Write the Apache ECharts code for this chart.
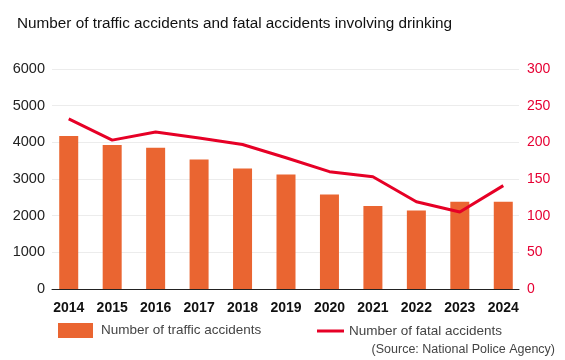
<!DOCTYPE html>
<html><head><meta charset="utf-8">
<script src="https://cdn.jsdelivr.net/npm/echarts@6/dist/echarts.min.js"></script>
<style>html,body{margin:0;padding:0;background:#fff}#c{width:565px;height:360px}</style>
</head><body><div id="c"></div>
<script>
var years = ['2014','2015','2016','2017','2018','2019','2020','2021','2022','2023','2024'];
var trafficAccidents = [4170, 3924, 3850, 3534, 3289, 3125, 2580, 2262, 2144, 2379, 2379];
var fatalAccidents = [232, 203, 214, 206, 197, 179, 160, 153, 119, 105, 141];
var leftTicks = [0, 1000, 2000, 3000, 4000, 5000, 6000];
var rightTicks = [0, 50, 100, 150, 200, 250, 300];
var FONT = '"Liberation Sans", Arial, sans-serif';
var chart = echarts.init(document.getElementById('c'), null, {renderer: 'canvas'});
chart.setOption({
  animation: false,
  textStyle: {fontFamily: FONT},
  title: {text: 'Number of traffic accidents and fatal accidents involving drinking', left: 12, top: 11,
    textStyle: {fontSize: 15.3, fontWeight: 'normal', color: '#111', fontFamily: FONT}},
  grid: [
    {left: 47, right: 40, top: 69, bottom: 71},
    {left: 52, right: 46, top: 69, bottom: 71}
  ],
  legend: [
    {data: ['Number of traffic accidents'], left: 53, top: 318, itemWidth: 35, itemHeight: 15, itemGap: 0,
      icon: 'rect', textStyle: {fontSize: 13.5, color: '#444', fontFamily: FONT, padding: [0,0,0,3]}},
    {data: ['Number of fatal accidents'], left: 312, top: 319, itemWidth: 27, itemHeight: 3,
      icon: 'rect', textStyle: {fontSize: 13.5, color: '#444', fontFamily: FONT, padding: [0,0,0,0]}}
  ],
  xAxis: [
    {type: 'category', data: years, gridIndex: 0, axisLine: {show: false}, axisTick: {show: false},
      axisLabel: {margin: 12, fontSize: 14, color: '#111', fontFamily: FONT, fontWeight: 'bold', interval: 0}},
    {type: 'value', gridIndex: 1, min: 0, max: 1, axisLine: {show: true, lineStyle: {color: '#222', width: 1}},
      axisTick: {show: false}, axisLabel: {show: false}, splitLine: {show: false}}
  ],
  yAxis: [
    {type: 'value', gridIndex: 0, min: 0, max: 6000, interval: 1000, position: 'left',
      axisLine: {show: false}, axisTick: {show: false}, splitLine: {show: false},
      axisLabel: {margin: 2, fontSize: 14.5, color: '#222', fontFamily: FONT, formatter: function (v) { return String(v); }}},
    {type: 'value', gridIndex: 0, min: 0, max: 300, interval: 50, position: 'right',
      axisLine: {show: false}, axisTick: {show: false}, splitLine: {show: false},
      axisLabel: {margin: 2, fontSize: 14, color: '#E60033', fontFamily: FONT, formatter: function (v) { return String(v); }}},
    {type: 'value', gridIndex: 1, min: 0, max: 6000, interval: 1000,
      axisLine: {show: false}, axisTick: {show: false}, axisLabel: {show: false},
      splitLine: {show: true, lineStyle: {color: '#ececec', width: 1}}}
  ],
  series: [
    {name: 'Number of traffic accidents', type: 'bar', xAxisIndex: 0, yAxisIndex: 0, data: trafficAccidents,
      barWidth: 19, itemStyle: {color: '#EA6531'}},
    {name: 'Number of fatal accidents', type: 'line', xAxisIndex: 0, yAxisIndex: 1, data: fatalAccidents,
      symbol: 'none', lineStyle: {color: '#E60026', width: 3}, itemStyle: {color: '#E60026'}, z: 5}
  ],
  graphic: [
    {type: 'text', right: 10, top: 343, style: {text: '(Source: National Police Agency)', fontSize: 12.5,
      fill: '#444', fontFamily: FONT}}
  ]
});
</script></body></html>
